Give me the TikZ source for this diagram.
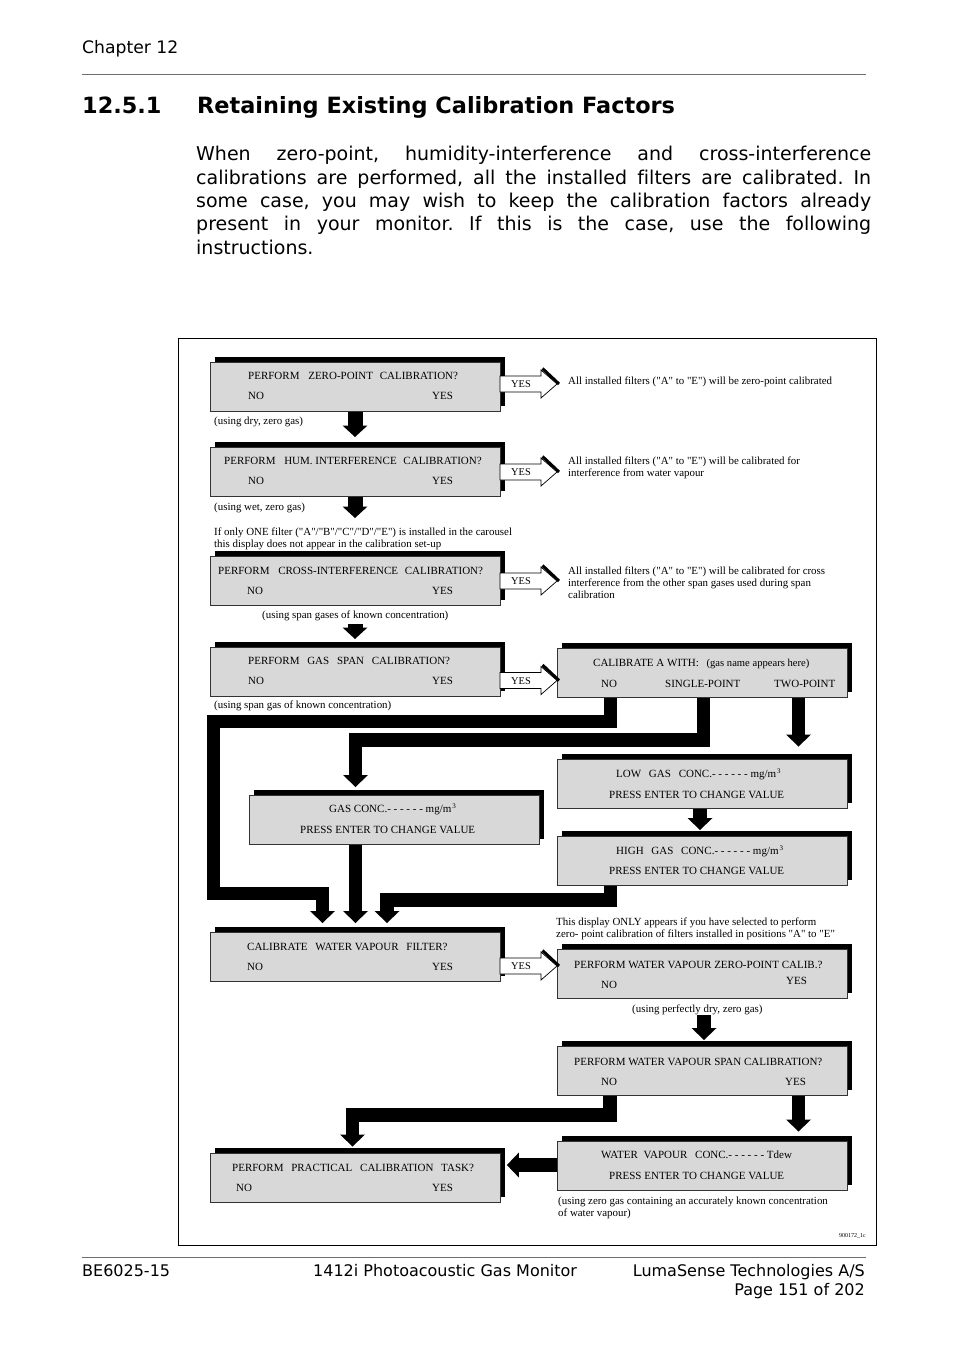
\documentclass[tikz,border=0pt]{standalone}
\usepackage{fontspec}
\setmainfont{Liberation Serif}[Ligatures=TeXOff]
\newfontfamily\verd{DejaVu Sans}[Ligatures=CommonOff]
\usetikzlibrary{arrows.meta,shadows,calc}
\definecolor{boxgray}{RGB}{216,216,216}
\definecolor{rulegray}{RGB}{110,110,110}
\newcommand{\hs}[1]{\hspace{#1pt}}
\newcommand{\cubed}{\hspace{1pt}\raisebox{4pt}{\fontsize{7}{8}\selectfont 3}}
\frenchspacing
\begin{document}
\begin{tikzpicture}[x=1pt,y=-1pt,
  disp/.style={draw=black!80, line width=0.9pt, fill=boxgray, inner sep=0pt,
    minimum width=290pt, minimum height=49pt, anchor=north west,
    general shadow={fill=black, shadow xshift=5pt, shadow yshift=5.5pt}},
  dt/.style={anchor=base west, inner sep=0pt, font=\fontsize{11}{12}\selectfont},
  nt/.style={anchor=base west, inner sep=0pt, font=\fontsize{10.9}{12}\selectfont},
  yt/.style={anchor=center, inner sep=0pt, font=\fontsize{10.4}{12}\selectfont},
  pg/.style={anchor=base west, inner sep=0pt, font=\verd\fontsize{16}{19}\selectfont},
  para/.style={anchor=base west, inner sep=0pt, font=\verd\fontsize{19}{23}\selectfont},
  flow/.style={line width=13.5pt, line join=miter, draw=black,
    -{Triangle[width=25pt,length=12pt,line width=0pt 0 0]}},
  flowS/.style={line width=15pt, line join=miter, draw=black,
    -{Triangle[width=25pt,length=11.5pt,line width=0pt 0 0]}},
  yesarrow/.style={draw=black, line width=0.7pt, fill=white, line join=miter}
]
\useasboundingbox (0,0) rectangle (954,1350);
\fill[white] (0,0) rectangle (954,1350);

% ---------- page text ----------
\node[pg, font=\verd\fontsize{17.2}{19}\selectfont] (chap) at (82,53) {Chapter 12};
\draw[rulegray, line width=1pt] (82,74.5) -- (866,74.5);
\node[anchor=base west, inner sep=0pt, font=\verd\bfseries\fontsize{22.4}{26}\selectfont] (secnum) at (82,113) {12.5.1};
\node[anchor=base west, inner sep=0pt, font=\verd\bfseries\fontsize{22.4}{26}\selectfont] (sectitle) at (197,113) {Retaining Existing Calibration Factors};
\node[para] (p1) at (196,160) {\makebox[675pt][s]{When zero-point, humidity-interference and cross-interference}};
\node[para] (p2) at (196,184) {\makebox[675pt][s]{calibrations are performed, all the installed filters are calibrated. In}};
\node[para] (p3) at (196,207) {\makebox[675pt][s]{some case, you may wish to keep the calibration factors already}};
\node[para] (p4) at (196,230) {\makebox[675pt][s]{present in your monitor. If this is the case, use the following}};
\node[para] (p5) at (196,254) {instructions.};

\draw[rulegray, line width=1pt] (82,1257) -- (866,1257);
\node[pg] (f1) at (82,1276) {BE6025-15};
\node[pg] (f2) at (313,1276) {1412i Photoacoustic Gas Monitor};
\node[pg, anchor=base east] (f3) at (865,1276) {LumaSense Technologies A/S};
\node[pg, anchor=base east] (f4) at (865,1295) {Page 151 of 202};

% ---------- frame ----------
\draw[black, line width=1pt] (178,338) rectangle (876,1245);

% ---------- display boxes ----------
\node[disp] (B1) at (210,362) {};
\node[disp] (B2) at (210,447) {};
\node[disp] (B3) at (210,556) {};
\node[disp] (B4) at (210,647) {};
\node[disp] (B5) at (557,648) {};
\node[disp] (B6) at (557,759) {};
\node[disp] (B7) at (249,795) {};
\node[disp] (B8) at (557,836) {};
\node[disp] (B9) at (210,932) {};
\node[disp] (B10) at (557,949) {};
\node[disp] (B11) at (557,1046) {};
\node[disp] (B12) at (557,1141) {};
\node[disp] (B13) at (210,1153) {};

% ---------- thick connectors ----------
\coordinate (a2end) at (355,518);
\coordinate (a3start) at (355,624);
\coordinate (a10start) at (704,1015);
\draw[flowS] (B1.south west -| 355,0) -- ($(B2.north west)+(145,-10)$);
\draw[flowS] (B2.south west -| 355,0) -- (a2end);
\draw[flowS] (a3start) -- ($(B4.north west)+(145,-8)$);

\draw[flow] ($(B5.south west)+(53.5,0)$) -- (610.5,721.5) -- (213.7,721.5) -- (213.7,893.5) -- (322.5,893.5) -- ($(B9.north west)+(112.5,-9)$);
\draw[flow] ($(B5.south west)+(146.5,0)$) -- (703.5,740) -- (355.5,740) -- ($(B7.north west)+(106.5,-8)$);
\draw[flow] ($(B5.south west)+(241.5,0)$) -- ($(B6.north west)+(241.5,-12.5)$);
\draw[flow] ($(B6.south west)+(143,0)$) -- ($(B8.north west)+(143,-6)$);
\draw[flow] ($(B7.south west)+(106.5,0)$) -- ($(B9.north west)+(145.5,-9)$);
\draw[flow] ($(B8.south west)+(53.5,0)$) -- (610.5,900) -- (387,900) -- ($(B9.north west)+(177,-9)$);

\draw[flow] (a10start) -- ($(B11.north west)+(147,-6)$);
\draw[flow] ($(B11.south west)+(241.5,0)$) -- ($(B12.north west)+(241.5,-9.5)$);
\draw[flow] ($(B11.south west)+(53,0)$) -- (610,1115) -- (352.5,1115) -- ($(B13.north west)+(142.5,-6.5)$);
\draw[flow] ($(B12.north west)+(0,24)$) -- ($(B13.north east)+(6,12)$);

% ---------- YES arrows ----------
\foreach \nm/\yc in {ya1/384, ya2/472, ya3/581, ya4/680.5, ya9/966}{
  \coordinate (\nm) at (500,\yc);
  \draw[line width=3pt, line cap=butt] (\nm) ++(42.5,-15.5) -- ++(16.5,15.5);
  \draw[yesarrow] (\nm) ++(0,-8) -- ++(41,0) -- ++(0,-6) -- ++(16,14) -- ++(-16,14) -- ++(0,-6) -- ++(-41,0) -- cycle;
}
\node[yt] (yl1) at (521,384.5) {YES};
\node[yt] (yl2) at (521,472.5) {YES};
\node[yt] (yl3) at (521,581.5) {YES};
\node[yt] (yl4) at (521,681) {YES};
\node[yt] (yl9) at (521,966.5) {YES};

% ---------- box texts ----------
\node[dt] (t1a) at (248,379.7) {PERFORM\hs{6} ZERO-POINT\hs{4} CALIBRATION?};
\node[dt] (t1n) at (248,399.7) {NO};
\node[dt] (t1y) at (432,399.7) {YES};

\node[dt] (t2a) at (224,464.7) {PERFORM\hs{6} HUM. INTERFERENCE\hs{4} CALIBRATION?};
\node[dt] (t2n) at (248,484.7) {NO};
\node[dt] (t2y) at (432,484.7) {YES};

\node[dt] (t3a) at (218,574.7) {PERFORM\hs{6} CROSS-INTERFERENCE\hs{4} CALIBRATION?};
\node[dt] (t3n) at (247,594.7) {NO};
\node[dt] (t3y) at (432,594.7) {YES};

\node[dt] (t4a) at (248,664.7) {PERFORM\hs{5} GAS\hs{5} SPAN\hs{5} CALIBRATION?};
\node[dt] (t4n) at (248,684.7) {NO};
\node[dt] (t4y) at (432,684.7) {YES};

\node[dt] (t5a) at (593,666.7) {CALIBRATE A WITH:\hs{5} {\fontsize{10.6}{12}\selectfont(gas name appears here)}};
\node[dt] (t5n) at (601,687.7) {NO};
\node[dt] (t5s) at (665,687.7) {SINGLE-POINT};
\node[dt] (t5t) at (774,687.7) {TWO-POINT};

\node[dt] (t6a) at (616,777.7) {LOW\hs{5} GAS\hs{5} CONC.- - - - - - mg/m\cubed};
\node[dt] (t6b) at (609,798.7) {PRESS ENTER TO CHANGE VALUE};

\node[dt] (t7a) at (329,812.7) {GAS CONC.- - - - - - mg/m\cubed};
\node[dt] (t7b) at (300,833.7) {PRESS ENTER TO CHANGE VALUE};

\node[dt] (t8a) at (616,854.7) {HIGH\hs{5} GAS\hs{5} CONC.- - - - - - mg/m\cubed};
\node[dt] (t8b) at (609,874.7) {PRESS ENTER TO CHANGE VALUE};

\node[dt] (t9a) at (247,950.7) {CALIBRATE\hs{5} WATER VAPOUR\hs{5} FILTER?};
\node[dt] (t9n) at (247,970.7) {NO};
\node[dt] (t9y) at (432,970.7) {YES};

\node[dt] (t10a) at (574,968.7) {PERFORM WATER VAPOUR ZERO-POINT CALIB.?};
\node[dt] (t10n) at (601,988.7) {NO};
\node[dt] (t10y) at (786,984.7) {YES};

\node[dt] (t11a) at (574,1065.7) {PERFORM WATER VAPOUR SPAN CALIBRATION?};
\node[dt] (t11n) at (601,1085.7) {NO};
\node[dt] (t11y) at (785,1085.7) {YES};

\node[dt] (t12a) at (601,1158.7) {WATER\hs{3} VAPOUR\hs{5} CONC.- - - - - - Tdew};
\node[dt] (t12b) at (609,1179.7) {PRESS ENTER TO CHANGE VALUE};

\node[dt] (t13a) at (232,1171.7) {PERFORM\hs{5} PRACTICAL\hs{5} CALIBRATION\hs{5} TASK?};
\node[dt] (t13n) at (236,1191.7) {NO};
\node[dt] (t13y) at (432,1191.7) {YES};

% ---------- notes ----------
\node[nt] (n1) at (214,424.7) {(using dry, zero gas)};
\node[nt] (n2) at (214,510.7) {(using wet, zero gas)};
\node[nt] (n3a) at (214,535.7) {If only ONE filter ("A"/"B"/"C"/"D"/"E") is installed in the carousel};
\node[nt] (n3b) at (214,547.7) {this display does not appear in the calibration set-up};
\node[nt] (n4) at (262,618.7) {(using span gases of known concentration)};
\node[nt] (n5) at (214,708.7) {(using span gas of known concentration)};

\node[nt] (r1) at (568,384.7) {All installed filters ("A" to "E") will be zero-point calibrated};
\node[nt] (r2a) at (568,464.7) {All installed filters ("A" to "E") will be calibrated for};
\node[nt] (r2b) at (568,476.7) {interference from water vapour};
\node[nt] (r3a) at (568,574.7) {All installed filters ("A" to "E") will be calibrated for cross};
\node[nt] (r3b) at (568,586.7) {interference from the other span gases used during span};
\node[nt] (r3c) at (568,598.7) {calibration};

\node[nt] (n6a) at (556,925.7) {This display ONLY appears if you have selected to perform};
\node[nt] (n6b) at (556,937.7) {zero- point calibration of filters installed in positions "A" to "E"};
\node[nt] (n7) at (632,1012.7) {(using perfectly dry, zero gas)};
\node[nt] (n8a) at (558,1204.7) {(using zero gas containing an accurately known concentration};
\node[nt] (n8b) at (558,1216.7) {of water vapour)};
\node[anchor=base east, inner sep=0pt, font=\fontsize{6}{7}\selectfont] (code) at (866,1237) {900172\_1c};
\end{tikzpicture}
\end{document}
